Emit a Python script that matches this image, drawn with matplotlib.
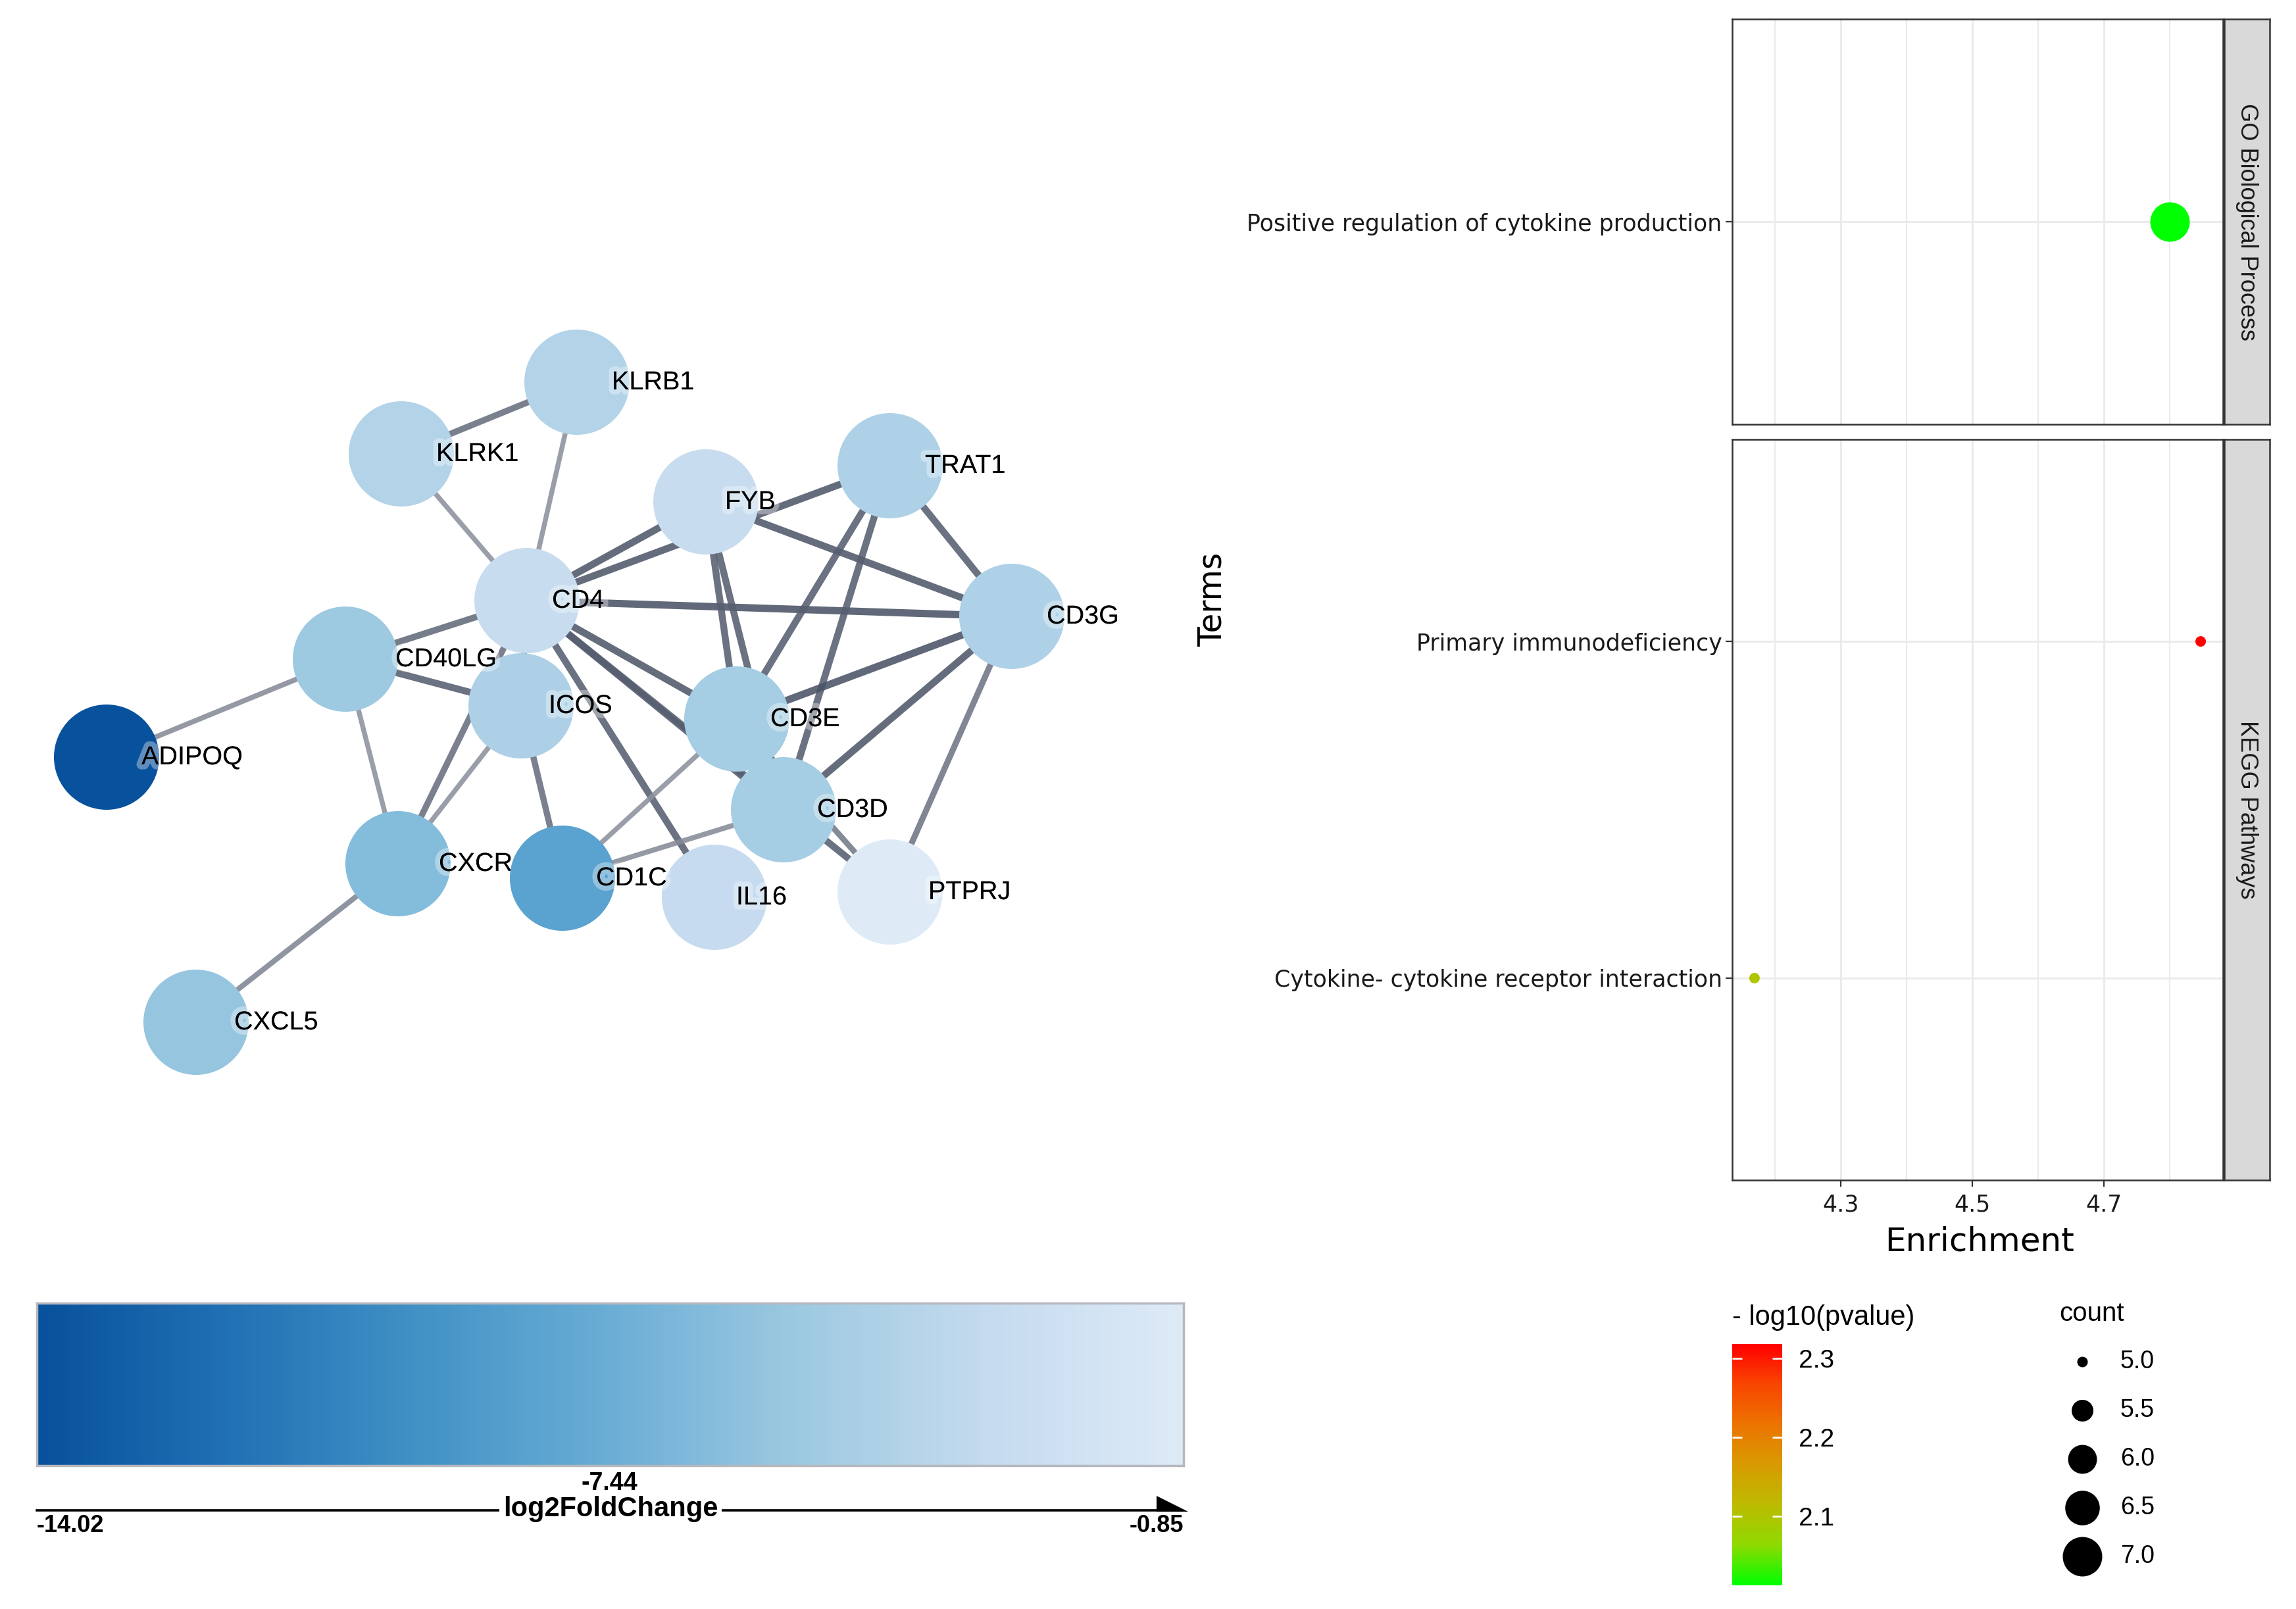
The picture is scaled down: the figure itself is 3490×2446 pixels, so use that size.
import numpy as np
import matplotlib
matplotlib.use("Agg")
import matplotlib.pyplot as plt
import matplotlib.patheffects as pe
from matplotlib.colors import LinearSegmentedColormap, Normalize, to_rgb
from matplotlib.patches import Circle, Polygon

W, H = 3490, 2446

# ---- network data ----
genes = ["ADIPOQ", "CXCL5", "KLRB1", "KLRK1", "TRAT1", "FYB", "CD3G", "ICOS",
         "CD4", "CD40LG", "CD3E", "CD3D", "PTPRJ", "IL16", "CXCR6", "CD1C"]
log2fc = [-14.02, -5.6, -4.1, -4.1, -4.3, -3.0, -4.3, -4.4,
          -3.0, -5.3, -4.9, -4.9, -0.85, -3.1, -6.4, -8.36]
# layout of the network (x, y from top)
layout = {
    "ADIPOQ": (162, 1151), "CXCL5": (298, 1554), "KLRB1": (877, 581),
    "KLRK1": (610, 690), "TRAT1": (1353, 708), "FYB": (1073, 763),
    "CD3G": (1538, 937), "ICOS": (792, 1073), "CD4": (801, 913),
    "CD40LG": (525, 1002), "CD3E": (1120, 1093), "CD3D": (1191, 1231),
    "PTPRJ": (1353, 1356), "IL16": (1086, 1364), "CXCR6": (605, 1313),
    "CD1C": (855, 1335),
}
# horizontal offset of each label from its node centre
label_dx = {
    "ADIPOQ": 53, "CXCL5": 58, "KLRB1": 53, "KLRK1": 53, "TRAT1": 53,
    "FYB": 29, "CD3G": 53, "ICOS": 42, "CD4": 38, "CD40LG": 76, "CD3E": 51,
    "CD3D": 51, "PTPRJ": 58, "IL16": 33, "CXCR6": 62, "CD1C": 51,
}
edge_a = ["KLRB1", "KLRB1", "KLRK1", "CD4", "CD4", "CD4", "CD4", "CD40LG",
          "CD40LG", "CD40LG", "CD4", "ICOS", "ICOS", "CD4", "CD4", "CD4",
          "CD4", "CD3E", "FYB", "FYB", "FYB", "TRAT1", "TRAT1", "TRAT1",
          "CD3G", "CD3G", "CD3G", "CD1C", "CD1C", "CXCR6", "CD4"]
edge_b = ["KLRK1", "CD4", "CD4", "FYB", "TRAT1", "CD3G", "CD40LG", "ICOS",
          "ADIPOQ", "CXCR6", "CXCR6", "CXCR6", "CD1C", "IL16", "CD3E", "CD3D",
          "PTPRJ", "PTPRJ", "CD3G", "CD3E", "CD3D", "CD3E", "CD3D", "CD3G",
          "CD3E", "CD3D", "PTPRJ", "CD3E", "CD3D", "CXCL5", "ICOS"]
edge_score = [0.7, 0.4, 0.4, 0.9, 0.9, 0.95, 0.75, 0.85,
              0.45, 0.4, 0.7, 0.4, 0.7, 0.85, 0.9, 0.9,
              0.85, 0.6, 0.9, 0.85, 0.85, 0.85, 0.85, 0.85,
              0.95, 0.9, 0.65, 0.4, 0.45, 0.5, 0.6]
# drawing order of the nodes (later ones cover earlier labels)
draw_order = ["ADIPOQ", "CXCL5", "KLRB1", "KLRK1", "TRAT1", "FYB", "CD3G", "ICOS",
              "CD4", "CD40LG", "CD3E", "CD3D", "PTPRJ", "IL16", "CXCR6", "CD1C"]

# ---- enrichment data ----
terms = ["Positive regulation of cytokine production",
         "Primary immunodeficiency",
         "Cytokine- cytokine receptor interaction"]
categories = ["GO Biological Process", "KEGG Pathways", "KEGG Pathways"]
panels = ["GO Biological Process", "KEGG Pathways"]
enrichment = [4.80, 4.847, 4.169]
neg_log10_p = [2.013, 2.318, 2.10]
counts = [7, 5, 5]
x_major = [4.3, 4.5, 4.7]
x_minor = [4.2, 4.4, 4.6, 4.8]
p_ticks = [2.1, 2.2, 2.3]
count_breaks = [5.0, 5.5, 6.0, 6.5, 7.0]
fc_ticks = [-14.02, -7.44, -0.85]


def box(x0, y0, x1, y1):
    return [x0 / W, 1 - y1 / H, (x1 - x0) / W, (y1 - y0) / H]


fig = plt.figure(figsize=(W / 100, H / 100), dpi=100)

ov = fig.add_axes([0, 0, 1, 1])
ov.set_xlim(0, W)
ov.set_ylim(H, 0)
ov.axis("off")

# ---------------- network ----------------
fc_cmap = LinearSegmentedColormap.from_list(
    "fc", ["#08519c", "#2171b5", "#4292c6", "#6baed6", "#9ecae1", "#c6dbef", "#deebf7"])
fc_norm = Normalize(min(log2fc), max(log2fc))

net = fig.add_axes(box(0, 400, 1850, 1700))
net.set_xlim(0, 1850)
net.set_ylim(1700, 400)
net.axis("off")

light = np.array(to_rgb("#8c919d"))
dark = np.array(to_rgb("#4a5366"))
for a, b, s in zip(edge_a, edge_b, edge_score):
    t = (s - 0.4) / 0.55
    col = light + (dark - light) * t
    (xa, ya), (xb, yb) = layout[a], layout[b]
    net.plot([xa, xb], [ya, yb], color=col, lw=5.4 + 2.6 * t, alpha=0.88,
             solid_capstyle="butt", zorder=1)

fc_of = dict(zip(genes, log2fc))
halo = [pe.withStroke(linewidth=11, foreground=(1, 1, 1, 0.35))]
for k, g in enumerate(draw_order):
    x, y = layout[g]
    net.add_patch(Circle((x, y), 80, color=fc_cmap(fc_norm(fc_of[g])), lw=0,
                         zorder=2 + 2 * k))
    net.text(x + label_dx[g], y, g, fontsize=28.5, family="Liberation Sans",
             ha="left", va="center", color="black", path_effects=halo,
             zorder=3 + 2 * k)

# log2FoldChange legend
cb = fig.add_axes(box(56, 1981, 1799, 2228))
grad = np.linspace(min(log2fc), max(log2fc), 512)[None, :]
cb.imshow(grad, cmap=fc_cmap, norm=fc_norm, aspect="auto",
          extent=[min(log2fc), max(log2fc), 0, 1])
cb.set_xlim(min(log2fc), max(log2fc))
cb.set_xticks([])
cb.set_yticks([])
for sp in cb.spines.values():
    sp.set_color("#b5b8bd")
    sp.set_linewidth(2.5)
bold = dict(family=["Liberation Sans Narrow", "Liberation Sans"], fontweight="bold",
            color="black")
xt = cb.get_xaxis_transform()
cb.text(fc_ticks[1], -0.035, f"{fc_ticks[1]:.2f}", transform=xt,
        ha="center", va="top", fontsize=27, **bold)
cb.text(fc_ticks[0], -0.3, f"{fc_ticks[0]:.2f}", transform=xt,
        ha="left", va="top", fontsize=26, **bold)
cb.text(fc_ticks[2], -0.3, f"{fc_ticks[2]:.2f}", transform=xt,
        ha="right", va="top", fontsize=26, **bold)
ov.plot([56, 1760], [2296, 2296], color="black", lw=2.6)
ov.add_patch(Polygon([[1758, 2274], [1758, 2298], [1806, 2298]], closed=True,
                     color="black", lw=0))
ov.text(928, 2294, "log2FoldChange", ha="center", va="center", fontsize=30,
        bbox=dict(facecolor="white", edgecolor="none", pad=4), **bold)

# ---------------- enrichment dot plot ----------------
p_cmap = LinearSegmentedColormap.from_list(
    "p", ["#00ff00", "#8fda00", "#bdbb00", "#d99b00", "#ec7400", "#f94600", "#ff0000"])
p_norm = Normalize(min(neg_log10_p), max(neg_log10_p))


def dot_size(c):
    t = (c - min(counts)) / (max(counts) - min(counts))
    d_px = np.sqrt(16 ** 2 + (60 ** 2 - 16 ** 2) * t)
    return (d_px * 0.72) ** 2


xlo, xhi = min(enrichment), max(enrichment)
pad = 0.05 * (xhi - xlo)
panel_rows = [(29, 645), (668, 1794)]
for n, (name, (y0, y1)) in enumerate(zip(panels, panel_rows)):
    ax = fig.add_axes(box(2633, y0, 3379, y1))
    idx = sorted([i for i, c in enumerate(categories) if c == name],
                 key=lambda i: terms[i])
    ys = np.arange(1, len(idx) + 1)
    ax.set_xlim(xlo - pad, xhi + pad)
    ax.set_ylim(0.4, len(idx) + 0.6)
    ax.set_xticks(x_major)
    ax.set_xticks(x_minor, minor=True)
    ax.set_yticks(ys)
    ax.set_yticklabels([terms[i] for i in idx], fontsize=25, color="#1a1a1a")
    ax.grid(which="major", axis="both", color="#ebebeb", lw=2.2)
    ax.grid(which="minor", axis="x", color="#ebebeb", lw=1.6)
    ax.set_axisbelow(True)
    ax.scatter([enrichment[i] for i in idx], ys,
               s=[dot_size(counts[i]) for i in idx],
               c=[neg_log10_p[i] for i in idx], cmap=p_cmap, norm=p_norm,
               linewidths=0, zorder=3)
    ax.tick_params(axis="y", length=7, width=1.6, color="#333333", pad=4)
    ax.tick_params(axis="x", which="minor", length=0)
    if n == len(panels) - 1:
        ax.tick_params(axis="x", which="major", length=7, width=1.6, pad=8,
                       color="#333333", labelsize=25, labelcolor="#1a1a1a")
    else:
        ax.tick_params(axis="x", which="major", length=0, labelbottom=False)
    for sp in ax.spines.values():
        sp.set_color("#333333")
        sp.set_linewidth(1.8)
    strip = fig.add_axes(box(3381, y0, 3450, y1))
    strip.set_facecolor("#d9d9d9")
    strip.set_xticks([])
    strip.set_yticks([])
    for sp in strip.spines.values():
        sp.set_color("#333333")
        sp.set_linewidth(1.8)
    strip.text(0.5, 0.5, name, rotation=270, ha="center", va="center",
               fontsize=26, family=["Liberation Sans Narrow", "Liberation Sans"],
               color="#1a1a1a", transform=strip.transAxes)

ov.text(1843, 911, "Terms", rotation=90, ha="center", va="center", fontsize=35)
ov.text(3009, 1888, "Enrichment", ha="center", va="center", fontsize=36)

# -log10(pvalue) colour bar
pc = fig.add_axes(box(2633, 2043, 2709, 2410))
pgrad = np.linspace(min(neg_log10_p), max(neg_log10_p), 256)[:, None]
pc.imshow(pgrad, cmap=p_cmap, norm=p_norm, aspect="auto", origin="lower",
          extent=[0, 1, min(neg_log10_p), max(neg_log10_p)])
pc.set_xlim(0, 1)
pc.set_ylim(min(neg_log10_p), max(neg_log10_p))
pc.hlines(p_ticks, 0, 0.2, color="white", lw=2)
pc.hlines(p_ticks, 0.8, 1, color="white", lw=2)
pc.set_xticks([])
pc.yaxis.tick_right()
pc.set_yticks(p_ticks)
pc.set_yticklabels([f"{v:.1f}" for v in p_ticks], fontsize=28,
                   family="Liberation Sans")
pc.tick_params(axis="y", length=0, pad=18)
for sp in pc.spines.values():
    sp.set_visible(False)
ov.text(2633, 2003, "- log10(pvalue)", ha="left", va="center", fontsize=30,
        family="Liberation Sans")

# count legend
ov.text(3130, 1997, "count", ha="left", va="center", fontsize=29,
        family="Liberation Sans")
for k, c in enumerate(count_breaks):
    yy = 2070 + k * 74
    ov.scatter([3165], [yy], s=dot_size(c), color="black", linewidths=0)
    ov.text(3223, yy, f"{c:.1f}", ha="left", va="center", fontsize=27,
            family="Liberation Sans")

fig.savefig("out.png", dpi=100)
